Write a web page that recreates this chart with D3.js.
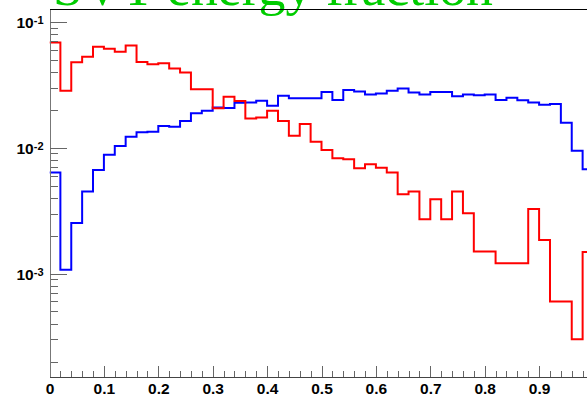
<!DOCTYPE html>
<html>
<head>
<meta charset="utf-8">
<script src="https://cdn.jsdelivr.net/npm/d3@7/dist/d3.min.js"></script>
<style>
  html, body { margin: 0; padding: 0; background: #fff; overflow: hidden; }
  svg { display: block; }
</style>
</head>
<body>
<svg id="chart" width="587" height="400"></svg>
<script>
// Histogram binning: 50 bins over [0, 1]
const binLow = 0;
const binHigh = 1;
const nBins = 50;

// Normalised entries per bin (red histogram)
const redValues = [
  0.0687, 0.0283, 0.0477, 0.0528, 0.0634, 0.0611, 0.0578, 0.0649, 0.0479, 0.0461,
  0.0470, 0.0426, 0.0396, 0.0292, 0.0292, 0.0206, 0.0254, 0.0235, 0.0171, 0.0174,
  0.0197, 0.0163, 0.01245, 0.0154, 0.01116, 0.0096, 0.00824, 0.0081, 0.00687, 0.00739,
  0.00694, 0.00634, 0.00427, 0.00448, 0.0027, 0.00389, 0.0027, 0.00448, 0.00301, 0.0015,
  0.0015, 0.00121, 0.00121, 0.00121, 0.00326, 0.00185, 0.0006, 0.0006, 0.000301, 0.00148
];

// Normalised entries per bin (blue histogram)
const blueValues = [
  0.00634, 0.00107, 0.00252, 0.00448, 0.00665, 0.0088, 0.0103, 0.0122, 0.01324, 0.0134,
  0.01486, 0.01468, 0.0163, 0.01876, 0.0197, 0.0209, 0.0207, 0.0228, 0.0229, 0.0236,
  0.0215, 0.0259, 0.0247, 0.0247, 0.0247, 0.0277, 0.0239, 0.0287, 0.0280, 0.0265,
  0.0270, 0.0283, 0.0296, 0.0275, 0.0265, 0.0277, 0.0277, 0.0256, 0.0265, 0.0261,
  0.0265, 0.0239, 0.0249, 0.0238, 0.0229, 0.0219, 0.0223, 0.0158, 0.00946, 0.00675
];

// Axis ticks and labels
const xMajorTicks = [0, 0.1, 0.2, 0.3, 0.4, 0.5, 0.6, 0.7, 0.8, 0.9];
const xTickLabels = ["0", "0.1", "0.2", "0.3", "0.4", "0.5", "0.6", "0.7", "0.8", "0.9"];
const yMajorTicks = [1e-3, 1e-2, 1e-1];
const yTickExponents = ["-3", "-2", "-1"];
const yRange = [1.52e-4, 0.1254];
const titleText = "SVT energy fraction";

const svg = d3.select("#chart");

const frame = { left: 49.5, right: 593.5, top: 9.5, bottom: 376.5 };

const x = d3.scaleLinear().domain([binLow, binHigh]).range([frame.left, frame.right]);
const y = d3.scaleLog().domain(yRange).range([frame.bottom, frame.top]);

// Title (partly above the visible area)
svg.append("text")
  .attr("x", 53)
  .attr("y", 5)
  .attr("font-family", "'Liberation Serif', 'Times New Roman', serif")
  .attr("font-size", 53)
  .attr("fill", "#00cc00")
  .attr("textLength", 440)
  .attr("lengthAdjust", "spacingAndGlyphs")
  .text(titleText);

// Histogram outlines
const binWidth = (binHigh - binLow) / nBins;
function stepPoints(values) {
  const pts = [];
  values.forEach((v, i) => {
    pts.push([binLow + i * binWidth, v]);
    pts.push([binLow + (i + 1) * binWidth, v]);
  });
  return pts;
}
const line = d3.line().x(d => x(d[0])).y(d => y(d[1]));

svg.append("defs").append("clipPath").attr("id", "plotClip")
  .append("rect")
  .attr("x", frame.left).attr("y", frame.top)
  .attr("width", frame.right - frame.left).attr("height", frame.bottom - frame.top);

const plot = svg.append("g").attr("clip-path", "url(#plotClip)");

plot.append("path")
  .attr("d", line(stepPoints(blueValues)))
  .attr("fill", "none")
  .attr("stroke", "#0000ff")
  .attr("stroke-width", 2);

plot.append("path")
  .attr("d", line(stepPoints(redValues)))
  .attr("fill", "none")
  .attr("stroke", "#ff0000")
  .attr("stroke-width", 2);

// Frame
svg.append("line")
  .attr("x1", frame.left).attr("x2", frame.right)
  .attr("y1", frame.top).attr("y2", frame.top)
  .attr("stroke", "#000").attr("stroke-width", 1)
  .attr("shape-rendering", "crispEdges");

const axisColor = "#666";
const labelFont = "'Liberation Sans', Arial, Helvetica, sans-serif";

// X axis: minor ticks every 0.02, major every 0.1
const xMinor = d3.range(0, 50).map(i => i * 0.02).filter(v => Math.abs(v * 10 - Math.round(v * 10)) > 1e-6);
const xMinorAxis = d3.axisBottom(x).tickValues(xMinor).tickFormat("").tickSizeInner(-5.5).tickSizeOuter(0);
const xMajorAxis = d3.axisBottom(x).tickValues(xMajorTicks)
  .tickFormat((d, i) => xTickLabels[i]).tickSizeInner(-11).tickSizeOuter(0).tickPadding(6);

const gxMinor = svg.append("g").attr("transform", `translate(0,${frame.bottom})`).call(xMinorAxis);
const gx = svg.append("g").attr("transform", `translate(0,${frame.bottom})`).call(xMajorAxis);
gxMinor.select(".domain").remove();

[gx, gxMinor].forEach(g => {
  g.selectAll("line").attr("stroke", axisColor).attr("shape-rendering", "crispEdges");
  g.selectAll(".domain").attr("stroke", "#444").attr("shape-rendering", "crispEdges");
});
gx.selectAll("text")
  .attr("font-family", labelFont)
  .attr("font-weight", "bold")
  .attr("font-size", 15.5)
  .attr("fill", "#000");

// Y axis: log scale, minor ticks at 2..9 within each decade
const yMinor = [];
[1e-4, 1e-3, 1e-2].forEach(dec => {
  for (let k = 2; k <= 9; k++) {
    const v = k * dec;
    if (v >= yRange[0] && v <= yRange[1]) yMinor.push(v);
  }
});
const yMinorAxis = d3.axisLeft(y).tickValues(yMinor).tickFormat("").tickSizeInner(-8.5).tickSizeOuter(0);
const yMajorAxis = d3.axisLeft(y).tickValues(yMajorTicks).tickFormat("").tickSizeInner(-17).tickSizeOuter(0);

const gyMinor = svg.append("g").attr("transform", `translate(${frame.left},0)`).call(yMinorAxis);
const gy = svg.append("g").attr("transform", `translate(${frame.left},0)`).call(yMajorAxis);
gyMinor.select(".domain").remove();
[gy, gyMinor].forEach(g => {
  g.selectAll("line").attr("stroke", axisColor).attr("shape-rendering", "crispEdges");
  g.selectAll(".domain").attr("stroke", "#777").attr("shape-rendering", "crispEdges");
});

// Power-of-ten labels with superscript exponents
const yLabels = svg.append("g")
  .attr("font-family", labelFont)
  .attr("font-weight", "bold")
  .attr("fill", "#000");
yMajorTicks.forEach((v, i) => {
  const t = yLabels.append("text")
    .attr("x", frame.left - 6)
    .attr("y", y(v) + 6)
    .attr("text-anchor", "end");
  t.append("tspan").attr("font-size", 15.5).text("10");
  t.append("tspan").attr("font-size", 11).attr("dy", -4).text(yTickExponents[i]);
});
</script>
</body>
</html>
